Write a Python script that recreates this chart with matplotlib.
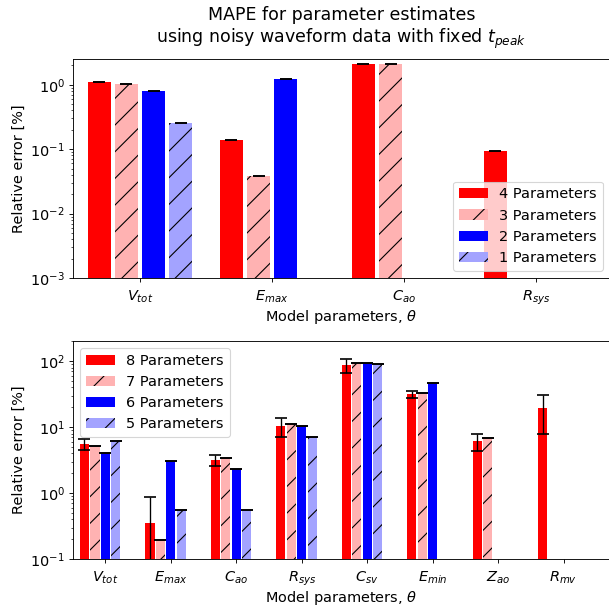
import numpy as np
import matplotlib
matplotlib.use("Agg")
import matplotlib.pyplot as plt

nan = np.nan

# top panel: fixed t_peak, 4 parameters max
params_top = [r"$V_{tot}$", r"$E_{max}$", r"$C_{ao}$", r"$R_{sys}$"]
labels_top = ["4 Parameters", "3 Parameters", "2 Parameters", "1 Parameters"]
mape_4 = [1.11, 0.139, 2.12, 0.094]
mape_3 = [1.04, 0.038, 2.10, nan]
mape_2 = [0.81, 1.24, nan, nan]
mape_1 = [0.256, nan, nan, nan]

# bottom panel: 8 parameters max
params_bot = [r"$V_{tot}$", r"$E_{max}$", r"$C_{ao}$", r"$R_{sys}$",
              r"$C_{sv}$", r"$E_{min}$", r"$Z_{ao}$", r"$R_{mv}$"]
labels_bot = ["8 Parameters", "7 Parameters", "6 Parameters", "5 Parameters"]
mape_8 = [5.5, 0.356, 3.2, 10.4, 87, 31.5, 6.2, 19.5]
err_8 = [1.0, 0.53, 0.6, 3.4, 21, 3.8, 1.8, 11.5]
mape_7 = [5.25, 0.197, 3.38, 11.3, 94, 32.8, 6.9, nan]
mape_6 = [4.07, 3.12, 2.31, 10.4, 94, 46.5, nan, nan]
mape_5 = [6.25, 0.56, 0.56, 7.2, 91, nan, nan, nan]

colors = ["#ff0000", "#ffb2b2", "#0000ff", "#a3a3ff"]
hatches = [None, "/", None, "/"]

plt.rcParams["font.size"] = 13
plt.rcParams["xtick.major.pad"] = 6.2

DPI = 80
W, H = 609, 612
fig = plt.figure(figsize=(W / DPI, H / DPI), dpi=DPI)

def px_axes(left, right, top, bottom):
    return fig.add_axes([left / W, 1 - bottom / H, (right - left) / W, (bottom - top) / H])

ax1 = px_axes(72.7, 610, 59.3, 278)
ax2 = px_axes(72.7, 610, 340.7, 559)

ekw = dict(elinewidth=1.2, capthick=1.5, ecolor="black")

# top
x = np.arange(len(params_top))
pitch, width = 0.205, 0.172
series = [mape_4, mape_3, mape_2, mape_1]
for i, vals in enumerate(series):
    ax1.bar(x + (i - 1.5) * pitch, vals, width, color=colors[i], hatch=hatches[i],
            yerr=[0 * v for v in vals], capsize=5, error_kw=ekw, label=labels_top[i])
ax1.set_yscale("log")
ax1.set_ylim(1e-3, 2.48)
ax1.set_xlim(-0.51, 3.56)
ax1.set_xticks(x)
ax1.set_xticklabels(params_top)
ax1.set_xlabel(r"Model parameters, $\theta$", labelpad=1)
ax1.set_ylabel("Relative error [%]")
ax1.legend(loc="lower right")
ax1.set_title("MAPE for parameter estimates\nusing noisy waveform data with fixed $t_{peak}$",
              fontsize=15.6, pad=14.5)

# bottom
x = np.arange(len(params_bot))
pitch, width = 0.16, 0.14
series = [mape_8, mape_7, mape_6, mape_5]
for i, vals in enumerate(series):
    errs = err_8 if i == 0 else [0 * v for v in vals]
    ax2.bar(x + (i - 2) * pitch, vals, width, color=colors[i], hatch=hatches[i],
            yerr=errs, capsize=5, error_kw=ekw, label=labels_bot[i])
ax2.set_yscale("log")
ax2.set_ylim(0.1, 205)
ax2.set_xlim(-0.5, 7.71)
ax2.set_xticks(x)
ax2.set_xticklabels(params_bot)
ax2.set_xlabel(r"Model parameters, $\theta$", labelpad=1)
ax2.set_ylabel("Relative error [%]")
ax2.legend(loc="upper left")

fig.savefig("out.png", dpi=DPI)
